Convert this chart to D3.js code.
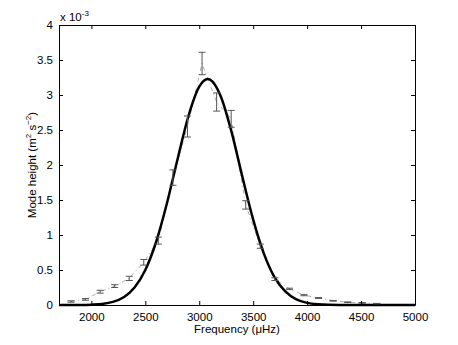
<!DOCTYPE html>
<html><head><meta charset="utf-8">
<script src="https://cdn.jsdelivr.net/npm/d3@7"></script>
<style>body{margin:0;background:#fff}svg{display:block;font-family:"Liberation Sans",Arial,sans-serif}</style>
</head><body>
<svg id="c" width="458" height="345"></svg>
<script>
// Observed mode heights (x 1e-3 m^2 s^-2)
const freqs = [1811,1946,2081,2216,2351,2486,2621,2756,2891,3026,3161,3296,3431,3566,3701,3836,3971,4106,4241,4376,4511,4646];
const heights = [0.05,0.08,0.19,0.27,0.38,0.61,0.92,1.82,2.55,3.45,2.90,2.66,1.43,0.84,0.37,0.23,0.14,0.10,0.06,0.04,0.03,0.02];
const errors = [0.01,0.012,0.02,0.02,0.03,0.04,0.05,0.11,0.15,0.16,0.13,0.12,0.06,0.03,0.02,0.01,0.008,0.006,0.005,0.004,0.004,0.003];
// Fitted curve
const fitFreq = [1700,1900,2000,2100,2200,2300,2400,2500,2600,2700,2800,2900,3000,3080,3100,3200,3300,3400,3500,3600,3700,3800,3900,4000,4100,4200,4400,4700,5000];
const fitHeight = [0,0.001,0.005,0.015,0.044,0.11,0.25,0.50,0.90,1.45,2.09,2.70,3.12,3.23,3.22,2.98,2.47,1.83,1.22,0.73,0.39,0.19,0.08,0.03,0.01,0.003,0,0,0];
const xTicks = [2000,2500,3000,3500,4000,4500,5000];
const yTicks = [0,0.5,1,1.5,2,2.5,3,3.5,4];

const svg = d3.select("#c");
const L=59,R=415,T=25,B=305;
const x = d3.scaleLinear().domain([1700,5000]).range([L,R]);
const y = d3.scaleLinear().domain([0,4]).range([B,T]);

// connecting dash-dot line
svg.append("path").datum(freqs.map((f,i)=>[f,heights[i]]))
  .attr("fill","none").attr("stroke","#888").attr("stroke-width",0.7)
  .attr("stroke-dasharray","4,3,1,3")
  .attr("d",d3.line().x(d=>x(d[0])).y(d=>y(d[1])));

// fit curve
svg.append("path").datum(fitFreq.map((f,i)=>[f,fitHeight[i]]))
  .attr("fill","none").attr("stroke","#000").attr("stroke-width",2.5)
  .attr("d",d3.line().x(d=>x(d[0])).y(d=>y(d[1])).curve(d3.curveMonotoneX));

// error bars
const eb = svg.append("g").attr("stroke","#555").attr("stroke-width",1);
freqs.forEach((f,i)=>{
  const cx=x(f), y1=y(heights[i]+errors[i]), y0=y(heights[i]-errors[i]);
  eb.append("line").attr("x1",cx).attr("x2",cx).attr("y1",y0).attr("y2",y1);
  eb.append("line").attr("x1",cx-3.5).attr("x2",cx+3.5).attr("y1",y0).attr("y2",y0);
  eb.append("line").attr("x1",cx-3.5).attr("x2",cx+3.5).attr("y1",y1).attr("y2",y1);
});

// axes (box with inward ticks)
const ax = g=>g.selectAll("text").attr("font-size",11.5).attr("fill","#000");
svg.append("g").attr("transform",`translate(0,${B})`)
  .call(d3.axisBottom(x).tickValues(xTicks).tickSizeInner(-4).tickSizeOuter(0).tickPadding(8).tickFormat(d3.format("d")))
  .call(ax);
svg.append("g").attr("transform",`translate(0,${T})`)
  .call(d3.axisTop(x).tickValues(xTicks).tickSizeInner(-4).tickSizeOuter(0).tickFormat(""));
svg.append("g").attr("transform",`translate(${L},0)`)
  .call(d3.axisLeft(y).tickValues(yTicks).tickSizeInner(-4).tickSizeOuter(0).tickPadding(6).tickFormat(d=>String(d)))
  .call(ax);
svg.append("g").attr("transform",`translate(${R},0)`)
  .call(d3.axisRight(y).tickValues(yTicks).tickSizeInner(-4).tickSizeOuter(0).tickFormat(""));
svg.selectAll(".domain").attr("stroke","#000");
svg.selectAll(".tick line").attr("stroke","#000");

// exponent label
const ex = svg.append("text").attr("x",60).attr("y",21).attr("font-size",11.5);
ex.append("tspan").text("x 10");
ex.append("tspan").attr("font-size",8).attr("dy",-5).text("-3");

// x label
svg.append("text").attr("x",237).attr("y",333).attr("text-anchor","middle").attr("font-size",11.5).text("Frequency (μHz)");
// y label
const yl = svg.append("text").attr("transform","translate(36,165) rotate(-90)").attr("text-anchor","middle").attr("font-size",11.5);
yl.append("tspan").text("Mode height (m");
yl.append("tspan").attr("font-size",8).attr("dy",-5).text("2");
yl.append("tspan").attr("dy",5).text(" s");
yl.append("tspan").attr("font-size",8).attr("dy",-5).text("−2");
yl.append("tspan").attr("dy",5).text(")");
</script>
</body></html>
